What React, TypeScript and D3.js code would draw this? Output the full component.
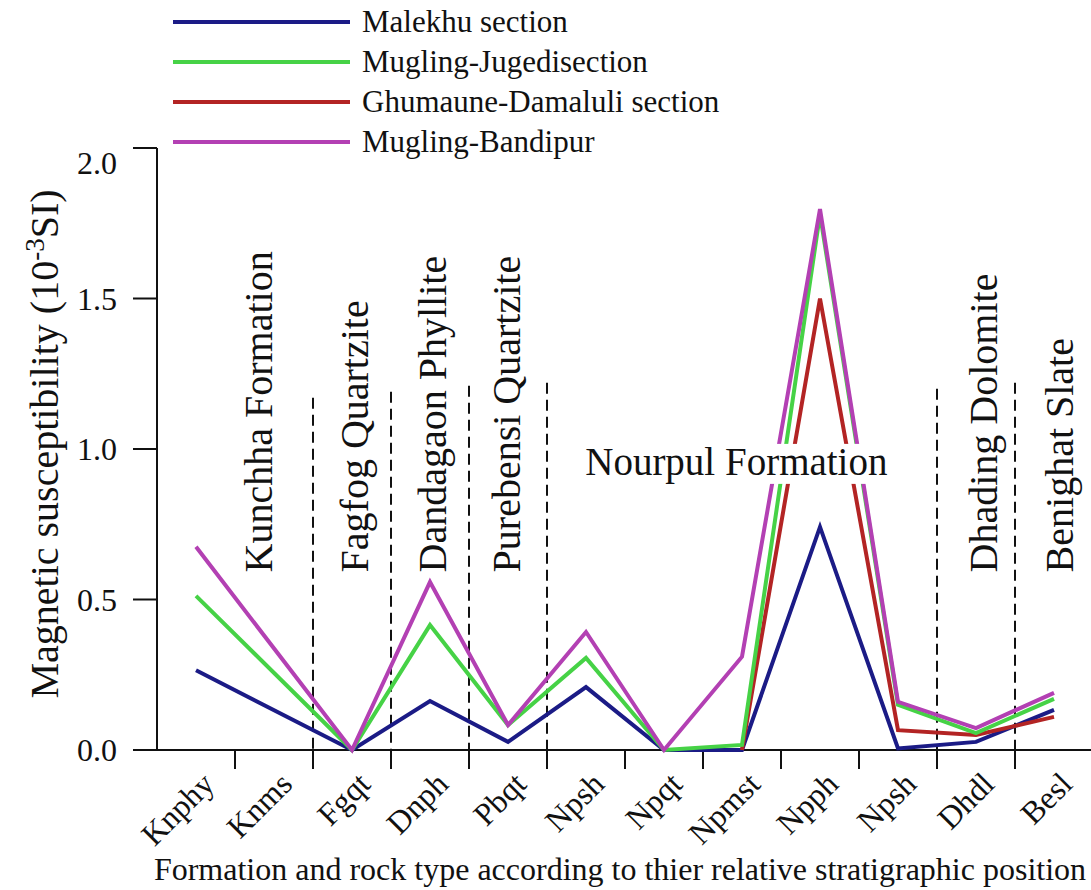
import React, { useLayoutEffect, useRef, useState } from "react";
import * as d3 from "d3";

// ---------- data ----------
const categories = ["Knphy", "Knms", "Fgqt", "Dnph", "Pbqt", "Npsh", "Npqt", "Npmst", "Npph", "Npsh", "Dhdl", "Besl"];

const malekhu: (number | null)[] = [0.265, null, 0, 0.163, 0.027, 0.209, 0, 0, 0.741, 0.005, 0.027, 0.133];
const muglingJugedi: (number | null)[] = [0.512, null, 0, 0.415, 0.083, 0.306, 0, 0.017, 1.78, 0.15, 0.056, 0.17];
const ghumauneDamaluli: (number | null)[] = [null, null, null, null, null, null, null, 0, 1.5, 0.066, 0.05, 0.11];
const muglingBandipur: (number | null)[] = [0.675, null, 0, 0.558, 0.083, 0.392, 0, 0.31, 1.797, 0.16, 0.073, 0.19];

const seriesNames = ["Malekhu section", "Mugling-Jugedisection", "Ghumaune-Damaluli section", "Mugling-Bandipur"];
const seriesColors = ["#1b1b86", "#46d246", "#b32424", "#b340b3"];
const seriesValues = [malekhu, muglingJugedi, ghumauneDamaluli, muglingBandipur];
const drawOrder = [0, 2, 1, 3];

const yTicks = [0, 0.5, 1.0, 1.5, 2.0];

// formation dividers: boundary index (between categories) and top value
const dividerBoundaries = [2, 3, 4, 5, 10, 11];
const dividerTops = [1.17, 1.19, 1.21, 1.22, 1.2, 1.22];

// rotated formation names: position in band units and value of text start
const formationNames = ["Kunchha Formation", "Fagfog Quartzite", "Dandagaon Phyllite", "Purebensi Quartzite", "Dhading Dolomite", "Benighat Slate"];
const formationAt = [1.47, 2.71, 3.7, 4.66, 10.77, 11.74];
const formationStart = 0.59;

const nourpulName = "Nourpul Formation";
const nourpulAt = 5.49;
const nourpulValue = 0.914;

// ---------- layout ----------
const W = 1091;
const H = 890;
const left = 157;
const right = 1093;
const top = 148;
const bottom = 750;
const FONT = '"Liberation Serif", "Times New Roman", Times, serif';

export default function App() {
  const x = d3.scaleBand<number>().domain(categories.map((_, i) => i)).range([left, right]).padding(0);
  const bw = x.bandwidth();
  const cx = (i: number) => (x(i) as number) + bw / 2;
  const xu = (u: number) => left + u * bw;
  const y = d3.scaleLinear().domain([0, 2]).range([bottom, top]);

  const line = d3
    .line<{ i: number; v: number }>()
    .x((d) => cx(d.i))
    .y((d) => y(d.v));

  const nRef = useRef<SVGTextElement>(null);
  const [nBox, setNBox] = useState<{ x: number; y: number; w: number; h: number } | null>(null);
  useLayoutEffect(() => {
    if (nRef.current) {
      const b = nRef.current.getBBox();
      setNBox({ x: b.x, y: b.y, w: b.width, h: b.height });
    }
  }, []);

  return (
    <svg
      width={W}
      height={H}
      style={{ position: "absolute", left: 0, top: 0, background: "#fff", fontFamily: FONT }}
    >
      <rect x={0} y={0} width={W} height={H} fill="#fff" />

      {/* legend */}
      {seriesNames.map((name, k) => {
        const ly = 22 + k * 40;
        return (
          <g key={name}>
            <line x1={173} x2={350} y1={ly} y2={ly} stroke={seriesColors[k]} strokeWidth={4} />
            <text x={362} y={ly + 10} fontSize={31} fill="#111" style={{ fontFamily: FONT }}>
              {name}
            </text>
          </g>
        );
      })}

      {/* y axis */}
      <line x1={left} x2={left} y1={top} y2={bottom} stroke="#111" strokeWidth={2} />
      {yTicks.map((t) => (
        <g key={t}>
          <line x1={left - 24} x2={left} y1={y(t)} y2={y(t)} stroke="#111" strokeWidth={2} />
          <text x={117} y={y(t) + (t === 2 ? 15 : 0)} dy="0.35em" textAnchor="end" fontSize={32} fill="#111" style={{ fontFamily: FONT }}>
            {d3.format(".1f")(t)}
          </text>
        </g>
      ))}
      <text transform={`translate(58, 444) rotate(-90)`} textAnchor="middle" fontSize={40} fill="#111" style={{ fontFamily: FONT }}>
        Magnetic susceptibility (10
        <tspan dy={-14} fontSize={27}>-3</tspan>
        <tspan dy={14}>SI)</tspan>
      </text>

      {/* x axis */}
      <line x1={left - 24} x2={W} y1={bottom} y2={bottom} stroke="#111" strokeWidth={2} />
      {categories.map((_, i) =>
        i === 0 ? null : (
          <line key={"t" + i} x1={x(i) as number} x2={x(i) as number} y1={bottom} y2={bottom + 19} stroke="#111" strokeWidth={2} />
        )
      )}
      {categories.map((c, i) => (
        <text
          key={"l" + i}
          transform={`translate(${cx(i) + 20}, ${bottom + 36}) rotate(-45)`}
          textAnchor="end"
          fontSize={32}
          fill="#111"
          style={{ fontFamily: FONT }}
        >
          {c}
        </text>
      ))}
      <text x={620} y={880} textAnchor="middle" fontSize={32} fill="#111" style={{ fontFamily: FONT }}>
        Formation and rock type according to thier relative stratigraphic position
      </text>

      {/* dividers */}
      {dividerBoundaries.map((b, k) => (
        <line
          key={"d" + k}
          x1={xu(b)}
          x2={xu(b)}
          y1={y(dividerTops[k])}
          y2={bottom}
          stroke="#111"
          strokeWidth={2}
          strokeDasharray="11,6"
        />
      ))}

      {/* series */}
      {drawOrder.map((k) => {
        const pts = seriesValues[k]
          .map((v, i) => ({ i, v }))
          .filter((d) => d.v !== null) as { i: number; v: number }[];
        return (
          <path
            key={"s" + k}
            d={line(pts) || ""}
            fill="none"
            stroke={seriesColors[k]}
            strokeWidth={4}
            strokeLinejoin="miter"
          />
        );
      })}

      {/* formation names */}
      {formationNames.map((n, k) => (
        <text
          key={n}
          transform={`translate(${xu(formationAt[k])}, ${y(formationStart)}) rotate(-90)`}
          textAnchor="start"
          fontSize={40}
          fill="#111"
          style={{ fontFamily: FONT }}
        >
          {n}
        </text>
      ))}
      {nBox && <rect x={nBox.x - 2} y={nBox.y + 4} width={nBox.w + 4} height={nBox.h - 4} fill="#fff" />}
      <text ref={nRef} x={xu(nourpulAt)} y={y(nourpulValue)} fontSize={39} fill="#111" style={{ fontFamily: FONT }}>
        {nourpulName}
      </text>
    </svg>
  );
}
